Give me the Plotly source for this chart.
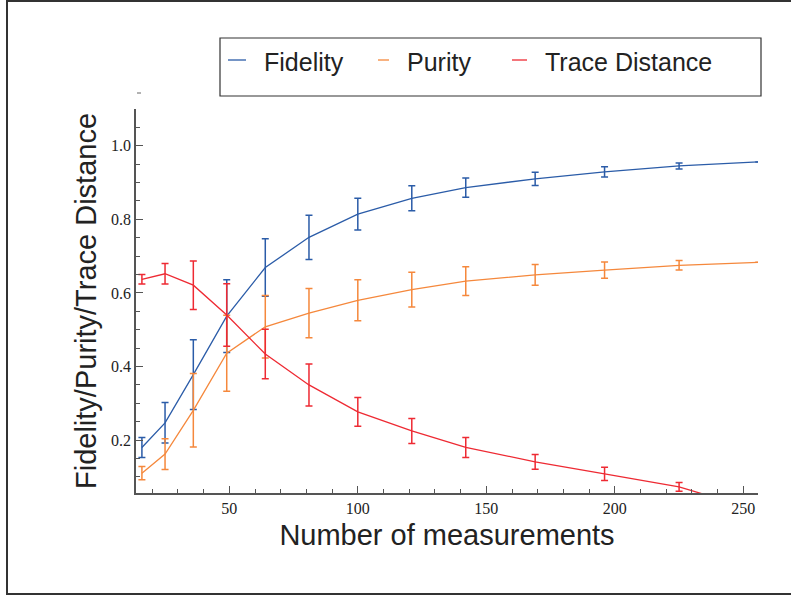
import plotly.graph_objects as go

# ---- data ----
n_meas = [16, 25, 36, 49, 64, 81, 100, 121, 142, 169, 196, 225, 256]
fidelity = [0.180, 0.247, 0.378, 0.537, 0.669, 0.751, 0.814, 0.857, 0.886, 0.910, 0.929, 0.945, 0.956]
fidelity_err = [0.027, 0.055, 0.095, 0.099, 0.078, 0.060, 0.043, 0.034, 0.026, 0.018, 0.014, 0.008, None]
purity = [0.110, 0.162, 0.281, 0.436, 0.508, 0.545, 0.580, 0.609, 0.632, 0.649, 0.662, 0.675, 0.683]
purity_err = [0.018, 0.042, 0.100, 0.103, 0.085, 0.067, 0.056, 0.047, 0.039, 0.028, 0.022, 0.013, None]
trace_dist = [0.637, 0.652, 0.621, 0.540, 0.434, 0.350, 0.277, 0.225, 0.180, 0.141, 0.108, 0.073, 0.008]
trace_err = [0.013, 0.028, 0.066, 0.085, 0.067, 0.057, 0.039, 0.034, 0.027, 0.020, 0.018, 0.012, None]

series_names = ["Fidelity", "Purity", "Trace Distance"]
series_colors = ["#2b5ca8", "#f5883c", "#ee2a33"]
y_tickvals = [0.2, 0.4, 0.6, 0.8, 1.0]
y_ticktext = ["0.2", "0.4", "0.6", "0.8", "1.0"]
x_tickvals = [50, 100, 150, 200, 250]

W, H = 791, 597
L, R, T, B = 136, 33, 109, 104
pw, ph = W - L - R, H - T - B

def px_x(p):
    return (p - L) / pw

def px_y(p):
    return (H - B - p) / ph

fig = go.Figure()
for name, color, ys, errs in zip(series_names, series_colors,
                                 [fidelity, purity, trace_dist],
                                 [fidelity_err, purity_err, trace_err]):
    fig.add_trace(go.Scatter(
        x=n_meas, y=ys, name=name, mode="lines",
        line=dict(color=color, width=1.3),
        error_y=dict(type="data", array=errs, visible=True,
                     color=color, thickness=1.5, width=3.5),
    ))

# legend drawn manually (short line keys + labels inside a framed box)
legend_line_px = [(228, 246), (378, 389), (512, 527)]
legend_text_px = [262, 405, 543]
legend_y_px = 60
shapes = [
    # outer frame
    dict(type="rect", xref="paper", yref="paper",
         x0=px_x(7), x1=px_x(800), y0=px_y(594), y1=px_y(1),
         line=dict(color="#333", width=2), fillcolor="rgba(0,0,0,0)"),
    # legend box
    dict(type="rect", xref="paper", yref="paper",
         x0=px_x(220), x1=px_x(761), y0=px_y(96), y1=px_y(38),
         line=dict(color="#333", width=1.2), fillcolor="rgba(0,0,0,0)"),
    # small stray tick above the y axis
    dict(type="line", xref="paper", yref="paper",
         x0=px_x(137), x1=px_x(141), y0=px_y(93), y1=px_y(93),
         line=dict(color="#666", width=1)),
]
annotations = []
for name, color, (a, b), tx in zip(series_names, series_colors, legend_line_px, legend_text_px):
    shapes.append(dict(type="line", xref="paper", yref="paper",
                       x0=px_x(a), x1=px_x(b), y0=px_y(legend_y_px), y1=px_y(legend_y_px),
                       line=dict(color=color, width=1.3)))
    annotations.append(dict(text=name, xref="paper", yref="paper",
                            x=px_x(tx), y=px_y(legend_y_px + 2), xanchor="left", yanchor="middle",
                            showarrow=False,
                            font=dict(family="Liberation Sans, Arial, sans-serif", size=25, color="#222")))

fig.update_layout(
    width=W, height=H,
    margin=dict(l=L, r=R, t=T, b=B, autoexpand=False),
    paper_bgcolor="white", plot_bgcolor="white",
    showlegend=False,
    xaxis=dict(
        range=[13.7, 255.7], showgrid=False, zeroline=False,
        showline=True, linecolor="#555", linewidth=1.5,
        tickmode="array", tickvals=x_tickvals,
        ticks="inside", ticklen=7, tickcolor="#555", tickwidth=1,
        minor=dict(dtick=10, tick0=0, ticks="inside", ticklen=4, tickcolor="#555", tickwidth=1),
        tickfont=dict(family="Liberation Serif, Times New Roman, serif", size=16, color="#222"),
        title=dict(text="Number of measurements", standoff=9,
                   font=dict(family="Liberation Sans, Arial, sans-serif", size=29, color="#222")),
    ),
    yaxis=dict(
        range=[0.0563, 1.0997], showgrid=False, zeroline=False,
        showline=True, linecolor="#555", linewidth=1.5,
        tickmode="array", tickvals=y_tickvals, ticktext=y_ticktext,
        ticks="inside", ticklen=7, tickcolor="#555", tickwidth=1,
        minor=dict(dtick=0.05, tick0=0, ticks="inside", ticklen=4, tickcolor="#555", tickwidth=1),
        tickfont=dict(family="Liberation Serif, Times New Roman, serif", size=16, color="#222"),
        title=dict(text="Fidelity/Purity/Trace Distance", standoff=6,
                   font=dict(family="Liberation Sans, Arial, sans-serif", size=29, color="#222")),
    ),
    shapes=shapes,
    annotations=annotations,
)

fig.write_html("out.html")
